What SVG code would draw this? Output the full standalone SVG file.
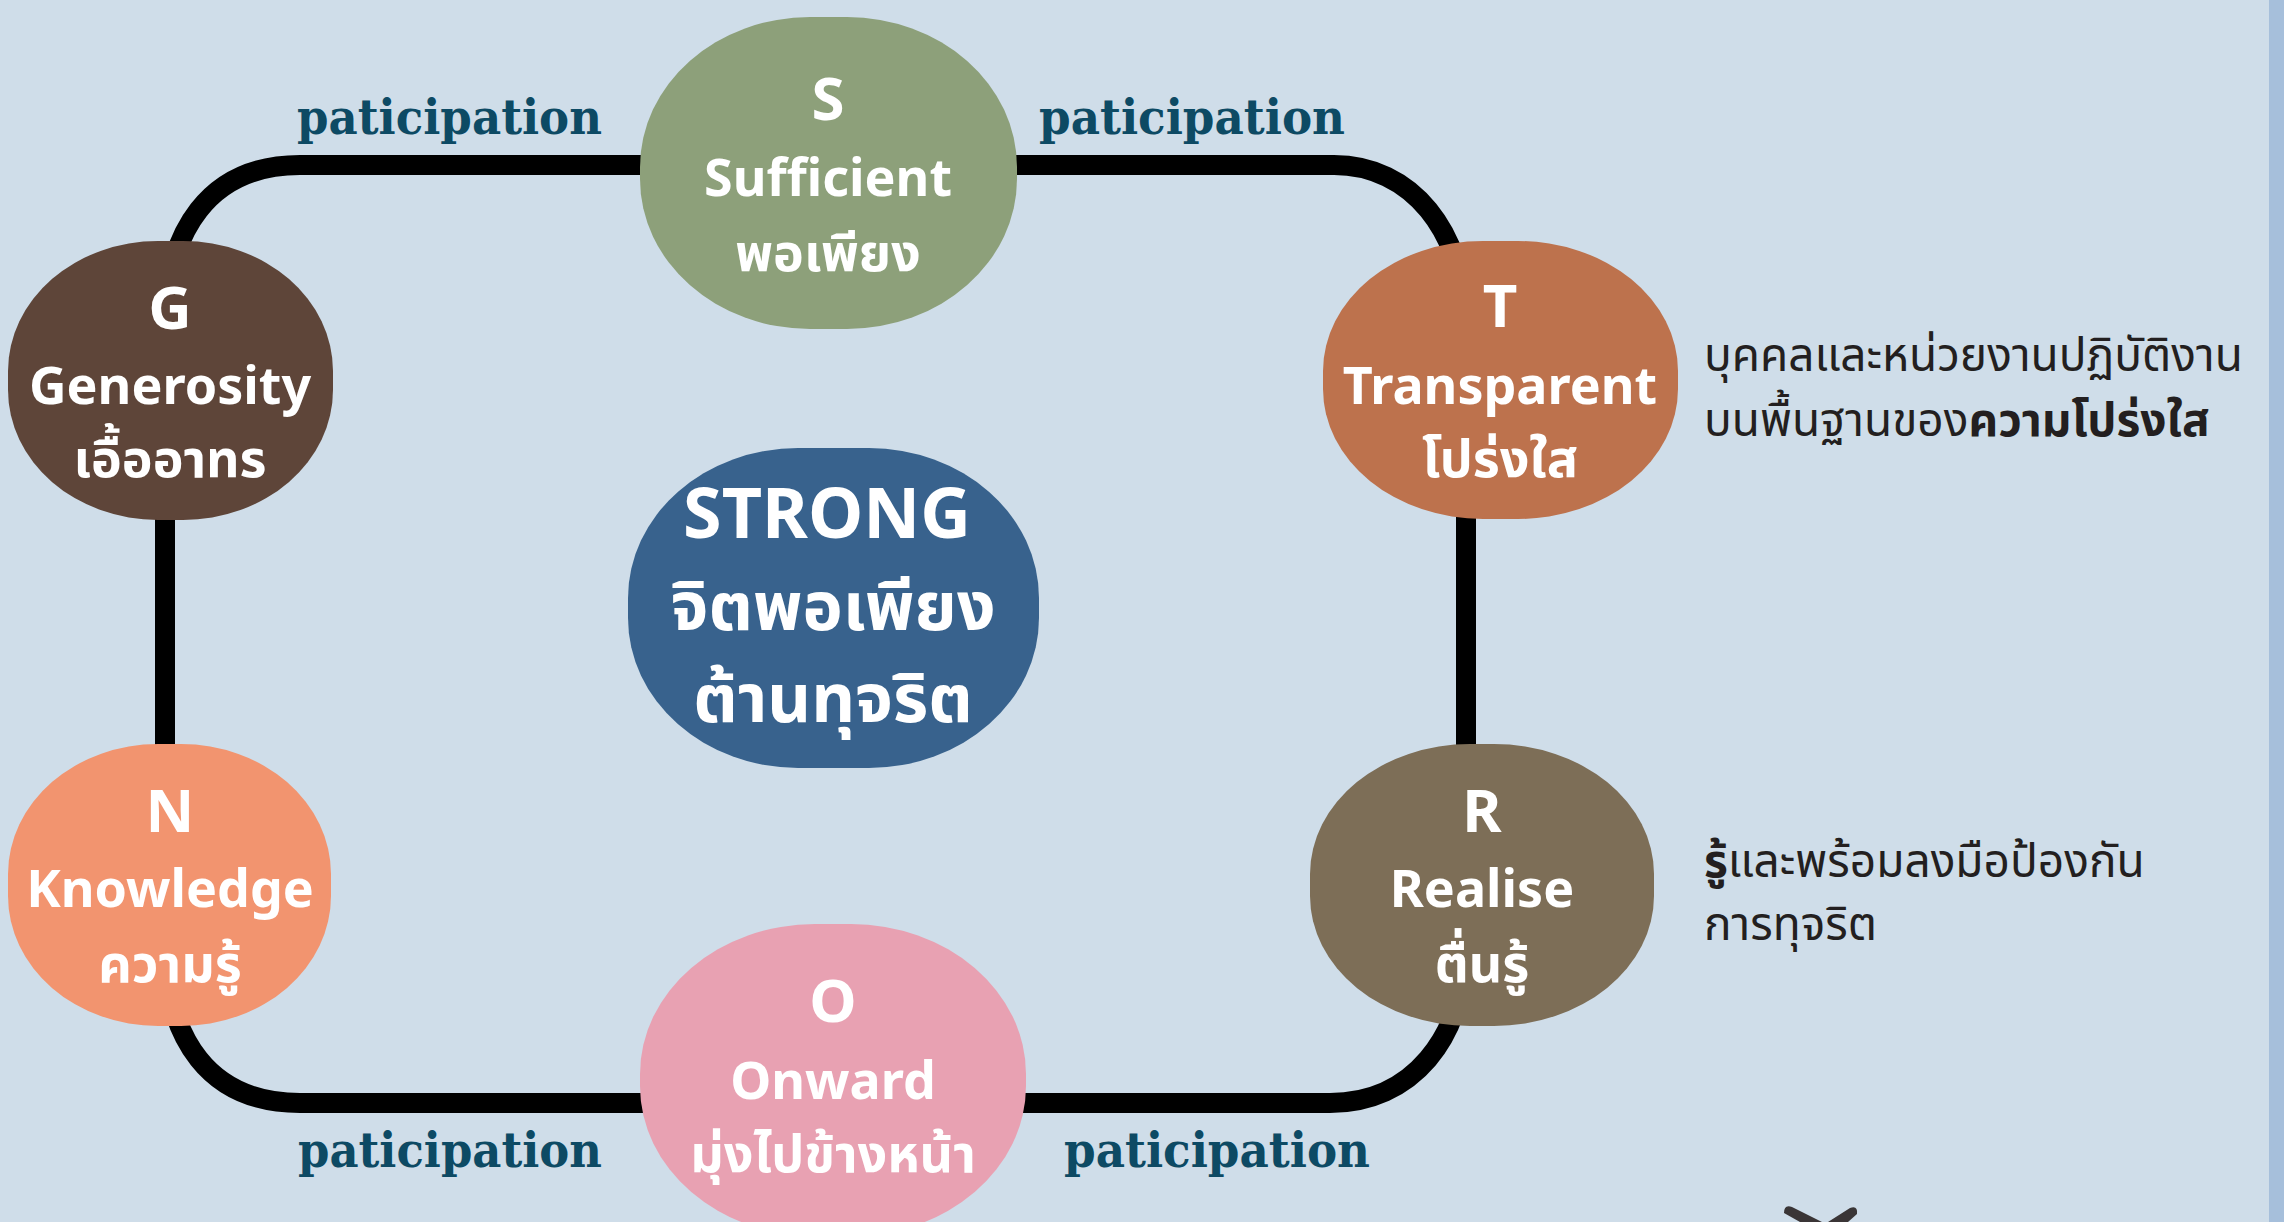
<svg xmlns="http://www.w3.org/2000/svg" width="2284" height="1222" viewBox="0 0 2284 1222">
<style>
.bg{fill:#cfdde9}
.wire{fill:none;stroke:#000;stroke-width:20}
.lbl{font-family:"DejaVu Serif","Liberation Serif",serif;font-weight:bold;font-size:48px;fill:#0d4a64}
.nt{font-family:"Noto Sans","Noto Sans Thai","Loma","Garuda","DejaVu Sans",sans-serif;font-weight:bold;fill:#fff;text-anchor:middle}
.big{font-size:60px}
.mid{font-size:52px}
.cen{font-size:68px}
.side{font-family:"Noto Sans","Noto Sans Thai","Loma","Garuda","DejaVu Sans",sans-serif;font-size:46px;fill:#231f20}
.b{font-weight:bold}
</style>
<rect class="bg" x="0" y="0" width="2284" height="1222"/>
<rect x="2269" y="0" width="15" height="1222" fill="#a6bfdb"/>
<g id="connectors">
<path class="wire" d="M 165 600 L 165 330 C 165 230 210 165 300 165 L 1334 165 C 1410 165 1466 230 1466 330 L 1466 940 C 1466 1040 1410 1103 1330 1103 L 300 1103 C 210 1103 165 1040 165 940 Z"/>
</g>
<g id="lbl-tl"><text class="lbl" x="297" y="134" textLength="305" lengthAdjust="spacingAndGlyphs">paticipation</text></g>
<g id="lbl-tr"><text class="lbl" x="1039" y="134" textLength="306" lengthAdjust="spacingAndGlyphs">paticipation</text></g>
<g id="lbl-bl"><text class="lbl" x="298" y="1167" textLength="304" lengthAdjust="spacingAndGlyphs">paticipation</text></g>
<g id="lbl-br"><text class="lbl" x="1064" y="1167" textLength="306" lengthAdjust="spacingAndGlyphs">paticipation</text></g>
<g id="node-S">
<rect x="640" y="17" width="377" height="312" rx="170" ry="150" fill="#8da07a"/>
<text class="nt big" x="828" y="120">S</text>
<text class="nt mid" x="828" y="196">Sufficient</text>
<text class="nt mid" x="828" y="271">พอเพียง</text>
</g>
<g id="node-G">
<rect x="8" y="241" width="325" height="279" rx="150" ry="130" fill="#5e4539"/>
<text class="nt big" x="170" y="329">G</text>
<text class="nt mid" x="170" y="404">Generosity</text>
<text class="nt mid" x="170" y="477">เอื้ออาทร</text>
</g>
<g id="node-T">
<rect x="1323" y="241" width="355" height="278" rx="160" ry="130" fill="#bd724d"/>
<text class="nt big" x="1500" y="327">T</text>
<text class="nt mid" x="1500" y="404">Transparent</text>
<text class="nt mid" x="1500" y="477">โปร่งใส</text>
</g>
<g id="node-N">
<rect x="8" y="744" width="323" height="282" rx="150" ry="130" fill="#f2946f"/>
<text class="nt big" x="170" y="832">N</text>
<text class="nt mid" x="170" y="907">Knowledge</text>
<text class="nt mid" x="170" y="982">ความรู้</text>
</g>
<g id="node-R">
<rect x="1310" y="744" width="344" height="282" rx="160" ry="130" fill="#7d6e57"/>
<text class="nt big" x="1482" y="832">R</text>
<text class="nt mid" x="1482" y="907">Realise</text>
<text class="nt mid" x="1482" y="982">ตื่นรู้</text>
</g>
<g id="node-O">
<rect x="640" y="924" width="386" height="312" rx="175" ry="150" fill="#e8a1b2"/>
<text class="nt big" x="833" y="1022">O</text>
<text class="nt mid" x="833" y="1099">Onward</text>
<text class="nt mid" x="833" y="1172">มุ่งไปข้างหน้า</text>
</g>
<g id="node-STRONG">
<rect x="628" y="448" width="411" height="320" rx="170" ry="150" fill="#38628d"/>
<text class="nt cen" x="827" y="538" style="font-size:70px">STRONG</text>
<text class="nt cen" x="833" y="630">จิตพอเพียง</text>
<text class="nt cen" x="833" y="722">ต้านทุจริต</text>
</g>
<g id="note-T">
<text class="side" x="1704" y="371">บุคคลและหน่วยงานปฏิบัติงาน</text>
<text class="side" x="1704" y="436">บนพื้นฐานของ<tspan class="b">ความโปร่งใส</tspan></text>
</g>
<g id="note-R">
<text class="side" x="1704" y="877"><tspan class="b">รู้</tspan>และพร้อมลงมือป้องกัน</text>
<text class="side" x="1704" y="940">การทุจริต</text>
</g>
<path d="M 1784 1213 Q 1784 1204 1792 1207 L 1822 1222 L 1828 1222 L 1850 1208 Q 1858 1205 1857 1214 L 1848 1222 L 1800 1222 Z" fill="#3a3536"/>
</svg>
